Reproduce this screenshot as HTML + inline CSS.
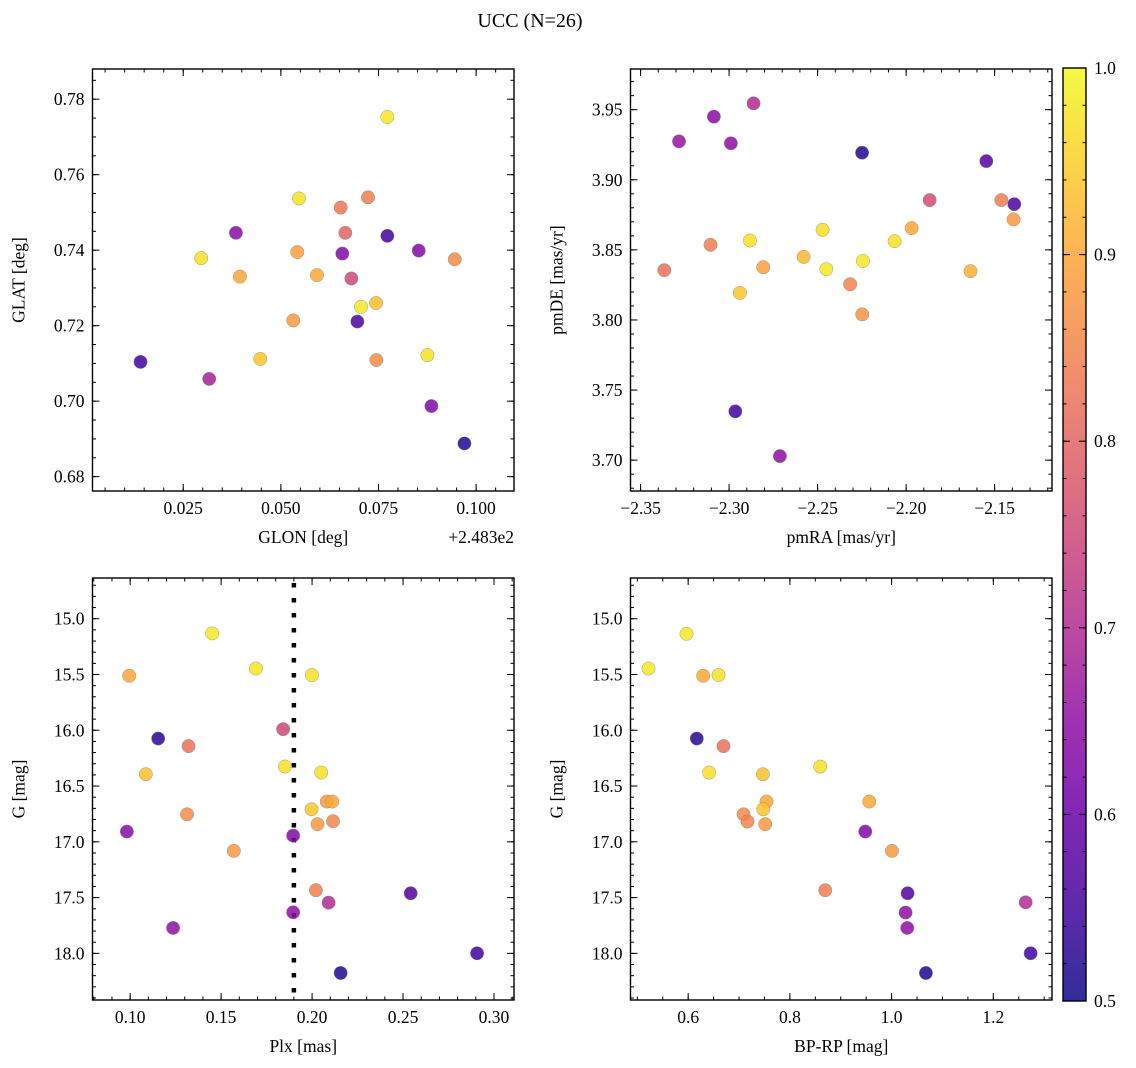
<!DOCTYPE html>
<html><head><meta charset="utf-8">
<style>
html,body{margin:0;padding:0;background:#fff;}
svg{display:block;font-family:"Liberation Serif","DejaVu Serif",serif;}
</style></head>
<body>
<svg id="fig" width="1136" height="1068" viewBox="0 0 1136 1068" xmlns="http://www.w3.org/2000/svg">
<text x="530" y="27" font-size="20" text-anchor="middle">UCC (N=26)</text>
</svg>
<script>
// ---- Panel 1: GLON vs GLAT ----
const glonX = [0.01407,0.03166,0.02961,0.03850,0.03952,0.04473,0.05464,0.05421,0.05318,0.05925,0.06532,0.06651,0.06574,0.06805,0.07232,0.07727,0.06959,0.07053,0.07437,0.07446,0.07727,0.08530,0.09453,0.08753,0.08855,0.09701];
const glatY = [0.7104,0.7059,0.7379,0.7446,0.7330,0.7112,0.7537,0.7395,0.7214,0.7334,0.7513,0.7446,0.7391,0.7325,0.7540,0.7438,0.7211,0.7250,0.7260,0.7109,0.7753,0.7399,0.7376,0.7122,0.6987,0.6888];
const glonP = [0.55,0.68,0.97,0.64,0.90,0.94,0.97,0.89,0.88,0.90,0.83,0.80,0.63,0.75,0.84,0.55,0.56,0.98,0.93,0.86,0.98,0.63,0.86,0.97,0.63,0.52];
const glonTicks = [0.025,0.050,0.075,0.100];
const glatTicks = [0.68,0.70,0.72,0.74,0.76,0.78];
// ---- Panel 2: pmRA vs pmDE ----
const pmraX = [-2.3283,-2.3086,-2.2990,-2.2862,-2.2249,-2.1547,-2.1867,-2.1462,-2.1389,-2.1393,-2.1969,-2.2065,-2.2472,-2.2882,-2.3105,-2.3366,-2.2807,-2.2579,-2.2451,-2.2244,-2.2316,-2.2248,-2.2939,-2.1636,-2.2965,-2.2713];
const pmdeY = [3.9274,3.9450,3.9260,3.9545,3.9193,3.9133,3.8855,3.8855,3.8826,3.8717,3.8655,3.8562,3.8643,3.8567,3.8536,3.8355,3.8376,3.8450,3.8362,3.8421,3.8255,3.8040,3.8193,3.8348,3.7348,3.7029];
const pmP = [0.66,0.64,0.65,0.70,0.52,0.57,0.76,0.84,0.56,0.88,0.90,0.97,0.97,0.97,0.84,0.82,0.89,0.92,0.98,0.98,0.85,0.87,0.94,0.91,0.55,0.65];
const pmraTicks = [-2.35,-2.30,-2.25,-2.20,-2.15];
const pmdeTicks = [3.70,3.75,3.80,3.85,3.90,3.95];
// ---- Panel 3: Plx vs G ----
const plxX = [0.1451,0.1691,0.1999,0.0995,0.1841,0.1154,0.1321,0.1851,0.2050,0.1086,0.2081,0.2111,0.1997,0.2030,0.2115,0.1313,0.0982,0.1896,0.1570,0.2021,0.2542,0.2091,0.1896,0.1236,0.2907,0.2157];
const plxG = [15.132,15.446,15.505,15.511,15.990,16.074,16.142,16.325,16.379,16.394,16.639,16.639,16.708,16.842,16.815,16.753,16.908,16.944,17.081,17.434,17.461,17.545,17.632,17.772,17.999,18.176];
const plxP = [0.98,0.98,0.97,0.90,0.75,0.53,0.82,0.97,0.97,0.93,0.88,0.90,0.94,0.88,0.85,0.86,0.64,0.63,0.88,0.84,0.57,0.70,0.65,0.65,0.55,0.52];
const plxRef = [0.19];
const plxTicks = [0.10,0.15,0.20,0.25,0.30];
const magTicks = [15.0,15.5,16.0,16.5,17.0,17.5,18.0];
// ---- Panel 4: BP-RP vs G ----
const bprpX = [0.5220,0.5967,0.6295,0.6597,0.6170,0.6695,0.6413,0.7469,0.8597,0.7541,0.7475,0.7089,0.7167,0.7515,0.9561,0.9482,1.0007,0.8695,1.0315,1.0275,1.0308,1.0675,1.2636,1.2734];
const bprpG = [15.446,15.135,15.511,15.505,16.074,16.142,16.379,16.394,16.325,16.639,16.708,16.753,16.818,16.842,16.639,16.908,17.081,17.434,17.461,17.634,17.772,18.176,17.542,17.999];
const bprpP = [0.98,0.98,0.90,0.97,0.53,0.82,0.97,0.93,0.97,0.90,0.94,0.86,0.85,0.88,0.90,0.63,0.88,0.84,0.57,0.65,0.65,0.52,0.70,0.55];
const bprpTicks = [0.6,0.8,1.0,1.2];
const cbTicks = [0.5,0.6,0.7,0.8,0.9,1.0];

const NS = "http://www.w3.org/2000/svg";
const svg = document.getElementById('fig');
const FS = 17.5;
function mk(tag, attrs, parent){
  const e = document.createElementNS(NS, tag);
  for (const k in attrs) e.setAttribute(k, attrs[k]);
  (parent||svg).appendChild(e);
  return e;
}
const plasmaStops = ["#0d0887","#41049d","#6a00a8","#8f0da4","#b12a90","#cc4778","#e16462","#f2844b","#fca636","#fcce25","#f0f921"];
function hex2rgb(h){return [parseInt(h.substr(1,2),16),parseInt(h.substr(3,2),16),parseInt(h.substr(5,2),16)];}
function plasma(t){
  t=Math.max(0,Math.min(1,t));
  const f=t*10, i=Math.min(9,Math.floor(f)), u=f-i;
  const a=hex2rgb(plasmaStops[i]), b=hex2rgb(plasmaStops[i+1]);
  return 'rgb('+a.map((v,k)=>Math.round(v+(b[k]-v)*u)).join(',')+')';
}
function probColor(p){return plasma((p-0.5)/0.5);}
function fmt(v,d){return (v<0?'\u2212':'')+Math.abs(v).toFixed(d);}

function panel(o){
  const g = mk('g',{});
  
  
  const sx = v => o.L + (v-o.xmin)/(o.xmax-o.xmin)*(o.R-o.L);
  const sy = o.invert ? (v => o.T + (v-o.ymin)/(o.ymax-o.ymin)*(o.B-o.T))
                      : (v => o.B - (v-o.ymin)/(o.ymax-o.ymin)*(o.B-o.T));
  const tg = mk('g',{stroke:'#000','stroke-width':1},g);
  
  
  const x0=Math.ceil(o.xmin/o.xminor-1e-6), x1=Math.floor(o.xmax/o.xminor+1e-6);
  for(let i=x0;i<=x1;i++){const X=sx(i*o.xminor);
    mk('line',{x1:X,x2:X,y1:o.B,y2:o.B-3.5},tg); mk('line',{x1:X,x2:X,y1:o.T,y2:o.T+3.5},tg);}
  const y0=Math.ceil(o.ymin/o.yminor-1e-6), y1=Math.floor(o.ymax/o.yminor+1e-6);
  for(let i=y0;i<=y1;i++){const Y=sy(i*o.yminor);
    mk('line',{x1:o.L,x2:o.L+3.5,y1:Y,y2:Y},tg); mk('line',{x1:o.R,x2:o.R-3.5,y1:Y,y2:Y},tg);}
  o.xticks.forEach(v=>{const X=sx(v);
    mk('line',{x1:X,x2:X,y1:o.B,y2:o.B-7},tg); mk('line',{x1:X,x2:X,y1:o.T,y2:o.T+7},tg);
    const t=mk('text',{x:X,y:o.B+23,'font-size':FS,'text-anchor':'middle'},g);
     
    t.textContent=fmt(v,o.xd);});
  o.yticks.forEach(v=>{const Y=sy(v);
    mk('line',{x1:o.L,x2:o.L+7,y1:Y,y2:Y},tg); mk('line',{x1:o.R,x2:o.R-7,y1:Y,y2:Y},tg);
    const t=mk('text',{x:o.L-8,y:Y+6,'font-size':FS,'text-anchor':'end'},g);
     
    t.textContent=fmt(v,o.yd);});
  if(o.vline){o.vline.forEach(v=>{const X=sx(v);
    const l=mk('line',{x1:X,x2:X,y1:o.T,y2:o.B,stroke:'#000','stroke-width':4.5,'stroke-dasharray':'4.5 10.5','stroke-dashoffset':'-5'},g);
     });}
  const pg = mk('g',{},g);
  
  
  o.xs.forEach((v,i)=>{
    const c=mk('circle',{cx:sx(v),cy:sy(o.ys[i]),r:6.7,fill:probColor(o.ps[i]),'fill-opacity':0.85,stroke:'#888','stroke-width':0.5,'stroke-opacity':0.8},pg);
    
    
  });
  const fr=mk('rect',{x:o.L,y:o.T,width:o.R-o.L,height:o.B-o.T,fill:'none',stroke:'#000','stroke-width':1.4},g);
  
  
  const xl=mk('text',{x:(o.L+o.R)/2,y:o.B+52,'font-size':FS,'text-anchor':'middle'},g);
   
  xl.textContent=o.xlabel;
  const yx=o.L-o.ylabOff, yc=(o.T+o.B)/2;
  const yl=mk('text',{x:yx,y:yc,'font-size':FS,'text-anchor':'middle',transform:'rotate(-90 '+yx+' '+yc+')'},g);
   
  yl.textContent=o.ylabel;
  if(o.offset){const ot=mk('text',{x:o.R,y:o.B+52,'font-size':FS,'text-anchor':'end'},g);
     
    ot.textContent=o.offset;}
}

panel({name:'glon-glat-panel',L:92.5,R:514,T:69,B:491,xmin:0.00177,xmax:0.1097,ymin:0.6762,ymax:0.788,
  xs:glonX,ys:glatY,ps:glonP,xticks:glonTicks,yticks:glatTicks,xd:3,yd:2,xminor:0.005,yminor:0.005,
  xlabel:'GLON [deg]',ylabel:'GLAT [deg]',ylabOff:68,offset:'+2.483e2'});
panel({name:'pm-panel',L:630.5,R:1052,T:69,B:491,xmin:-2.3557,xmax:-2.1176,ymin:3.678,ymax:3.979,
  xs:pmraX,ys:pmdeY,ps:pmP,xticks:pmraTicks,yticks:pmdeTicks,xd:2,yd:2,xminor:0.01,yminor:0.01,
  xlabel:'pmRA [mas/yr]',ylabel:'pmDE [mas/yr]',ylabOff:68});
panel({name:'plx-g-panel',L:92.5,R:514,T:578,B:1000,xmin:0.0793,xmax:0.311,ymin:14.635,ymax:18.418,invert:true,
  xs:plxX,ys:plxG,ps:plxP,xticks:plxTicks,yticks:magTicks,xd:2,yd:1,xminor:0.01,yminor:0.1,vline:plxRef,
  xlabel:'Plx [mas]',ylabel:'G [mag]',ylabOff:68});
panel({name:'cmd-panel',L:630.5,R:1052,T:578,B:1000,xmin:0.4866,xmax:1.3154,ymin:14.635,ymax:18.418,invert:true,
  xs:bprpX,ys:bprpG,ps:bprpP,xticks:bprpTicks,yticks:magTicks,xd:1,yd:1,xminor:0.05,yminor:0.1,
  xlabel:'BP-RP [mag]',ylabel:'G [mag]',ylabOff:68});

(function(){
  const L=1063,R=1086,T=68,B=1001;
  const cg=mk('g',{});
  
  
  const defs=mk('defs',{},cg);
  const grad=mk('linearGradient',{id:'cbgrad',x1:0,y1:1,x2:0,y2:0},defs);
  for(let i=0;i<=20;i++){mk('stop',{offset:(i/20),'stop-color':plasma(i/20),'stop-opacity':0.85},grad);}
  mk('rect',{x:L,y:T,width:R-L,height:B-T,fill:'url(#cbgrad)'},cg);
  const sy=v=>B-(v-0.5)/0.5*(B-T);
  for(let v=0.5;v<=1.0001;v+=0.02){const Y=sy(v);
    mk('line',{x1:R,x2:R-3.5,y1:Y,y2:Y,stroke:'#000','stroke-width':1},cg);
    mk('line',{x1:L,x2:L+3.5,y1:Y,y2:Y,stroke:'#000','stroke-width':1},cg);}
  cbTicks.forEach(v=>{const Y=sy(v);
    mk('line',{x1:R,x2:R-7,y1:Y,y2:Y,stroke:'#000','stroke-width':1},cg);
    mk('line',{x1:L,x2:L+7,y1:Y,y2:Y,stroke:'#000','stroke-width':1},cg);
    const t=mk('text',{x:R+8,y:Y+6,'font-size':FS},cg);
     
    t.textContent=v.toFixed(1);});
  mk('rect',{x:L,y:T,width:R-L,height:B-T,fill:'none',stroke:'#000','stroke-width':1.4},cg);
})();
</script>
</body></html>
